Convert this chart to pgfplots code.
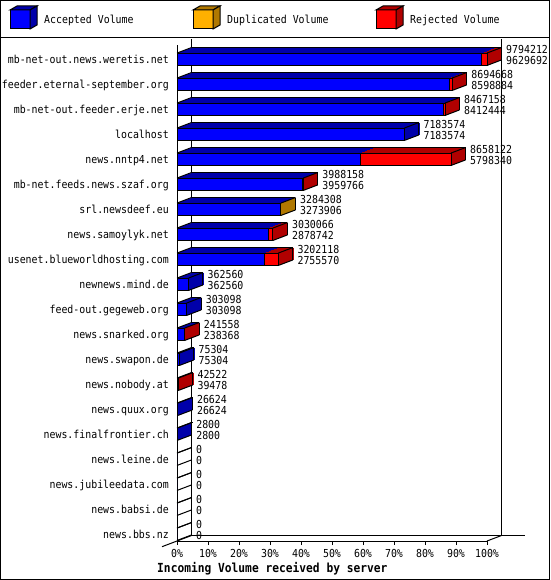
\documentclass[border=0pt]{standalone}
\usepackage{fontspec}
\setmainfont[FakeStretch=0.9]{DejaVu Sans Mono}
\usepackage{pgfplots}
\pgfplotsset{compat=1.18}
\usepackage{pgfplotstable}

\definecolor{accF}{RGB}{0,0,255}
\definecolor{accD}{RGB}{0,0,170}
\definecolor{dupF}{RGB}{255,176,0}
\definecolor{dupD}{RGB}{176,120,0}
\definecolor{rejF}{RGB}{255,0,0}
\definecolor{rejD}{RGB}{176,0,0}

\newcommand\gd{\fontsize{11pt}{13pt}\selectfont}

% y = row from the bottom; acc = accepted, ad = accepted+duplicated,
% tot = total volume; side = colour of the end face (0 acc, 1 dup, 2 rej)
\pgfplotstableread{
y  acc     ad      tot     side
19 9629692 9629692 9794212 2
18 8598884 8598884 8694668 2
17 8412444 8412444 8467158 2
16 7183574 7183574 7183574 0
15 5798340 5798340 8658122 2
14 3959766 3959766 3988158 2
13 3273906 3284308 3284308 1
12 2878742 2878742 3030066 2
11 2755570 2755570 3202118 2
10 362560  362560  362560  0
9  303098  303098  303098  0
8  238368  238368  241558  2
7  75304   75304   75304   0
6  39478   39478   42522   2
5  26624   26624   26624   0
4  2800    2800    2800    0
3  0       0       0       0
2  0       0       0       0
1  0       0       0       0
0  0       0       0       0
}\servers

\pgfplotsset{
  face/.style={xbar, bar width=12.4pt, bar shift=0pt},
  edge/.style={black, line width=1pt},
  nonzero/.style={restrict expr to domain={#1}{1:100000000}},
}

% one slice of the depth of the bars (dark top and end faces)
\newcommand\layer[2]{%
  \addplot[face, fill=accD, draw=none, xshift=#1pt, yshift=#2pt, nonzero=\thisrow{acc}]
    table[x=acc, y=y] {\servers};
  \addplot[quiver={u=\thisrow{ad}-\thisrow{acc}, v=0}, color=dupD, line width=12.4pt,
    xshift=#1pt, yshift=#2pt, nonzero=\thisrow{ad}-\thisrow{acc}]
    table[x=acc, y=y] {\servers};
  \addplot[quiver={u=\thisrow{tot}-\thisrow{ad}, v=0}, color=rejD, line width=12.4pt,
    xshift=#1pt, yshift=#2pt, nonzero=\thisrow{tot}-\thisrow{ad}]
    table[x=ad, y=y] {\servers};
  \addplot[quiver={u=0, v=-0.496, colored}, line width=1.3pt, point meta=explicit,
    xshift=#1pt, yshift=#2pt, nonzero=\thisrow{tot}]
    table[x=tot, y expr=\thisrow{y}+0.248, meta=side] {\servers};
}

\newcommand\legcube[4]{%
  \filldraw[fill=#2, line width=1pt] (#1,-10) rectangle (#1+20,-29);
  \filldraw[fill=#3, line width=1pt] (#1,-10) -- (#1+7,-6) -- (#1+27,-6) -- (#1+20,-10) -- cycle;
  \filldraw[fill=#3, line width=1pt] (#1+20,-10) -- (#1+27,-6) -- (#1+27,-25) -- (#1+20,-29) -- cycle;
  \node[anchor=base west, inner sep=0pt, font=\gd] at (#1+34,-24) {#4};
}

\begin{document}
\begin{tikzpicture}
\useasboundingbox (0,0) rectangle (550pt,-580pt);
\begin{scope}[x=1pt, y=1pt]
  \draw[line width=1pt] (0.5,-0.5) rectangle (549.5,-579.5);
  \draw[line width=1pt] (0,-37.5) -- (550,-37.5);
  \legcube{10}{accF}{accD}{Accepted Volume}
  \legcube{193}{dupF}{dupD}{Duplicated Volume}
  \legcube{376}{rejF}{rejD}{Rejected Volume}
  % back walls and floor
  \draw[line width=1pt] (191.5,-39.5) -- (191.5,-535.5) -- (525,-535.5);
  \draw[line width=1pt] (501.5,-39.5) -- (501.5,-535.5);
  \draw[line width=1pt] (162,-546.7) -- (191.5,-535.5);
  \draw[line width=1pt] (487,-541) -- (501.5,-535.5);
\end{scope}

\begin{axis}[
  at={(177pt,-541pt)}, anchor=south west,
  scale only axis, width=310pt, height=496pt,
  xmin=0, xmax=9794212, ymin=-0.27, ymax=19.57,
  clip=false,
  axis x line*=bottom, axis y line*=left,
  axis line style={line width=1pt, -},
  x axis line style={-}, y axis line style={-},
  scaled x ticks=false,
  xtick={0,979421.2,1958842.4,2938263.6,3917684.8,4897106,5876527.2,6855948.4,7835369.6,8814790.8,9794212},
  xticklabels={0\%,10\%,20\%,30\%,40\%,50\%,60\%,70\%,80\%,90\%,100\%},
  ytick={0,...,19},
  yticklabels={news.bbs.nz,news.babsi.de,news.jubileedata.com,news.leine.de,
    news.finalfrontier.ch,news.quux.org,news.nobody.at,news.swapon.de,
    news.snarked.org,feed-out.gegeweb.org,newnews.mind.de,
    usenet.blueworldhosting.com,news.samoylyk.net,srl.newsdeef.eu,
    mb-net.feeds.news.szaf.org,news.nntp4.net,localhost,
    mb-net-out.feeder.erje.net,feeder.eternal-september.org,
    mb-net-out.news.weretis.net},
  tick align=outside, major tick length=4pt,
  xtick style={black, line width=1pt},
  ytick style={draw=none},
  tick label style={font=\gd},
  xticklabel style={anchor=base, inner sep=0pt, yshift=-12pt},
  yticklabel style={anchor=base east, inner sep=0pt, xshift=-4pt, yshift=-4pt},
  xlabel={Incoming Volume received by server},
  xlabel style={at={(axis description cs:-0.0645,-0.0635)}, anchor=base west,
    inner sep=0pt, font=\fontsize{12.5pt}{14pt}\selectfont\bfseries},
  colormap={side}{rgb255=(0,0,170) rgb255=(176,120,0) rgb255=(176,0,0)},
  point meta min=0, point meta max=2,
]
  \layer{14.5}{5.5}
  \layer{13.533}{5.133}
  \layer{12.567}{4.767}
  \layer{11.6}{4.4}
  \layer{10.633}{4.033}
  \layer{9.667}{3.667}
  \layer{8.7}{3.3}
  \layer{7.733}{2.933}
  \layer{6.767}{2.567}
  \layer{5.8}{2.2}
  \layer{4.833}{1.833}
  \layer{3.867}{1.467}
  \layer{2.9}{1.1}
  \layer{1.933}{0.733}
  \layer{0.967}{0.367}

  % front faces
  \addplot[face, fill=rejF, draw=black, line width=1pt] table[x=tot, y=y] {\servers};
  \addplot[face, fill=dupF, draw=black, line width=1pt] table[x=ad, y=y] {\servers};
  \addplot[face, fill=accF, draw=black, line width=1pt] table[x=acc, y=y] {\servers};

  % edges of the depth
  \addplot[edge, quiver={u=458116, v=0.22}] table[x expr=0, y expr=\thisrow{y}+0.248] {\servers};
  \addplot[edge, quiver={u=458116, v=0.22}] table[x=tot, y expr=\thisrow{y}+0.248] {\servers};
  \addplot[edge, quiver={u=458116, v=0.22}] table[x=tot, y expr=\thisrow{y}-0.248] {\servers};
  \addplot[edge, quiver={u=\thisrow{tot}, v=0}] table[x expr=458116, y expr=\thisrow{y}+0.468] {\servers};
  \addplot[edge, quiver={u=0, v=-0.496}] table[x expr=\thisrow{tot}+458116, y expr=\thisrow{y}+0.468] {\servers};

  % values: total above, accepted below
  \addplot[draw=none, nodes near coords, point meta=explicit symbolic,
    every node near coord/.append style={anchor=base west, inner sep=0pt,
      xshift=19pt, yshift=5.3pt, font=\gd, text=black}]
    table[x=tot, y=y, meta=tot] {\servers};
  \addplot[draw=none, nodes near coords, point meta=explicit symbolic,
    every node near coord/.append style={anchor=base west, inner sep=0pt,
      xshift=19pt, yshift=-5.4pt, font=\gd, text=black}]
    table[x=tot, y=y, meta=acc] {\servers};
\end{axis}
\end{tikzpicture}
\end{document}
